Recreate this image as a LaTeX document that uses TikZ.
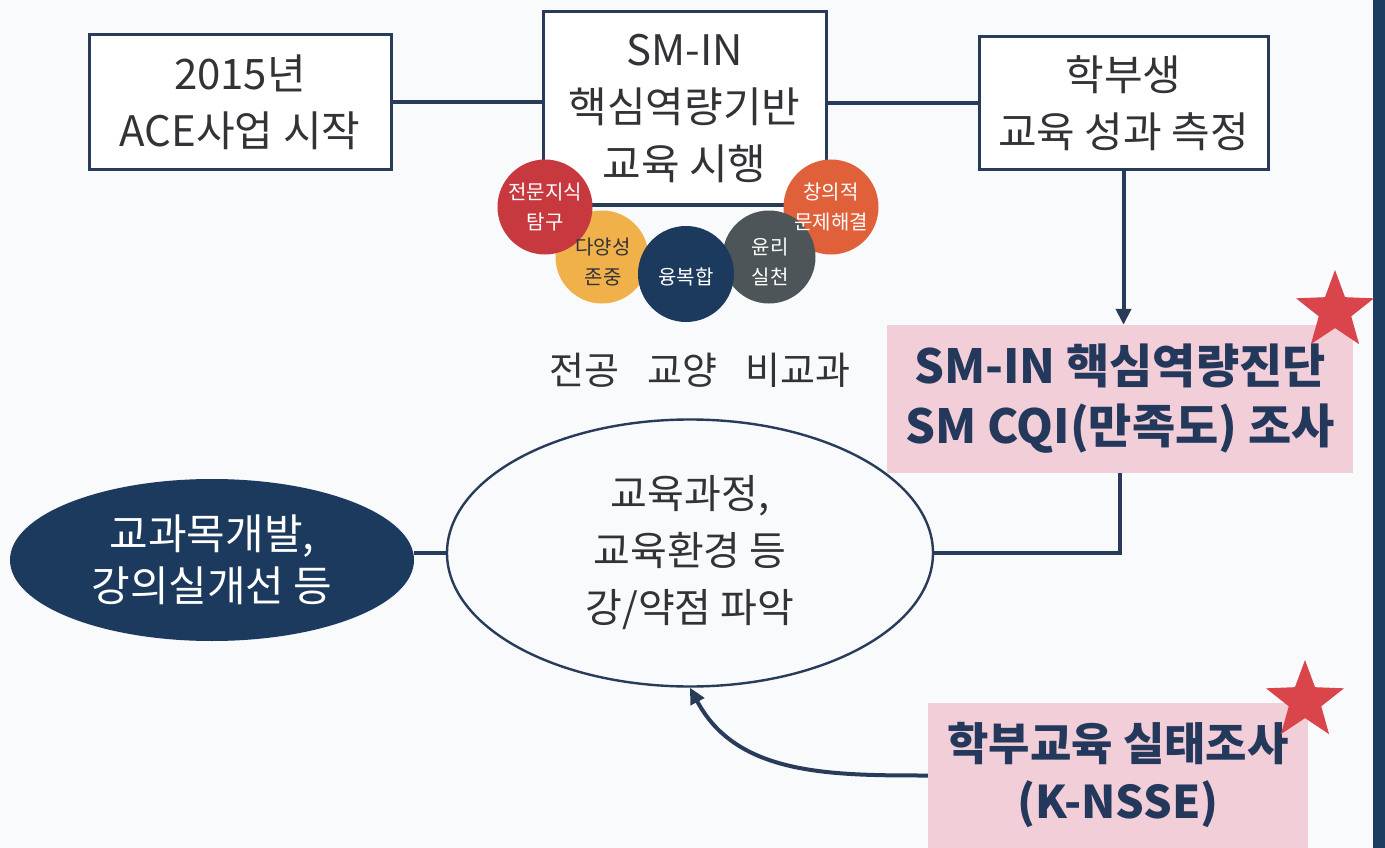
\documentclass[tikz,border=0pt]{standalone}
\usepackage{fontspec}
\setmainfont{Noto Sans CJK KR}
\usetikzlibrary{shapes.geometric,arrows.meta}
\definecolor{bg}{RGB}{248,250,252}
\definecolor{linec}{RGB}{40,60,90}
\definecolor{txt}{RGB}{50,50,55}
\definecolor{pinkc}{RGB}{242,206,216}
\definecolor{ptxt}{RGB}{36,56,92}
\definecolor{cred}{RGB}{200,57,63}
\definecolor{cyel}{RGB}{240,176,74}
\definecolor{cnavy}{RGB}{27,58,94}
\definecolor{cgray}{RGB}{77,85,88}
\definecolor{corange}{RGB}{224,96,58}
\definecolor{starc}{RGB}{217,69,74}
\definecolor{band}{RGB}{29,61,99}
\definecolor{darkell}{RGB}{28,57,94}
\tikzset{
  whitebox/.style={draw=linec, line width=3pt, fill=white, inner sep=0pt, align=center, text=txt, font=\fontsize{42}{57}\selectfont},
  pinkbox/.style={fill=pinkc, inner sep=0pt, align=center, text=ptxt},
  conn/.style={draw=linec, line width=4pt},
  arr/.style={conn, -{Triangle[length=16pt,width=15pt]}},
  ball/.style={circle, inner sep=0pt},
  balltext/.style={align=center, inner sep=0pt, font=\fontsize{20}{30}\selectfont},
  starshape/.style={star, star points=5, star point ratio=2.4, fill=starc, minimum size=82pt, inner sep=0pt},
}
\begin{document}
\begin{tikzpicture}[x=1pt,y=-1pt]
\useasboundingbox (0,0) rectangle (1385,848);
\fill[bg] (0,0) rectangle (1385,848);
\fill[band] (1373,0) rectangle (1385,848);

% top boxes
\node[whitebox, minimum width=302pt, minimum height=135pt] (b1) at (240,102) {2015년\\ACE사업 시작};
\node[whitebox, minimum width=283pt, minimum height=193pt] (b2) at (684.5,108.5) {SM-IN\\핵심역량기반\\교육 시행};
\node[whitebox, minimum width=289pt, minimum height=133pt] (b3) at (1123.5,103.5) {학부생\\교육 성과 측정};

% circles
\node[ball, fill=cyel, minimum size=93pt] (cy) at (602,257) {};
\node[ball, fill=cred, minimum size=95pt] (cr) at (545,207) {};
\node[ball, fill=corange, minimum size=95pt] (co) at (831,207) {};
\node[ball, fill=cgray, minimum size=93pt] (cg) at (769,257) {};
\node[ball, fill=cnavy, minimum size=96pt] (cn) at (686,274) {};
\node[balltext, text=white] (tr) at (545,207) {전문지식\\탐구};
\node[balltext, text=txt] (ty) at (603,262) {다양성\\존중};
\node[balltext, text=white] (tn) at (686,277) {융복합};
\node[balltext, text=white] (tg) at (770,262) {윤리\\실천};
\node[balltext, text=white] (to) at (831,207) {창의적\\문제해결};

\node[inner sep=0pt, text=txt, font=\fontsize{38}{42}\selectfont] (lbl) at (700,370) {전공\hspace{0.75em}교양\hspace{0.75em}비교과};

% pink boxes
\node[pinkbox, minimum width=466pt, minimum height=148pt, font=\fontsize{47}{60}\selectfont\bfseries] (p1) at (1120,399) {SM-IN 핵심역량진단\\SM CQI(만족도) 조사};
\node[pinkbox, minimum width=380pt, minimum height=145pt, font=\fontsize{45}{58}\selectfont\bfseries] (p2) at (1118,775.5) {학부교육 실태조사\\(K-NSSE)};
\node[starshape] (s1) at (1335,311) {};
\node[starshape] (s2) at (1305,701) {};

% ellipses
\node[ellipse, draw=linec, line width=2.4pt, fill=bg, minimum width=486pt, minimum height=267pt, inner sep=0pt, align=center, text=txt, font=\fontsize{40}{57}\selectfont] (el) at (690,553) {교육과정,\\교육환경 등\\강/약점 파악};
\node[ellipse, fill=darkell, minimum width=404pt, minimum height=162pt, inner sep=0pt, align=center, text=white, font=\fontsize{42}{52}\selectfont] (de) at (212,560) {교과목개발,\\강의실개선 등};

% connectors
\draw[conn] (b1.east) -- (b1.east -| b2.west);
\draw[conn] (b3.west -| b2.east) -- (b3.west);
\draw[arr] (b3.south) -- (b3.south |- p1.north);
\draw[conn] (p1.south) |- (el.east);
\draw[conn] (de.east |- el.west) -- (el.west);
\draw[arr] (p2.west) to[out=180, in=-62] (el.south);
\end{tikzpicture}
\end{document}
